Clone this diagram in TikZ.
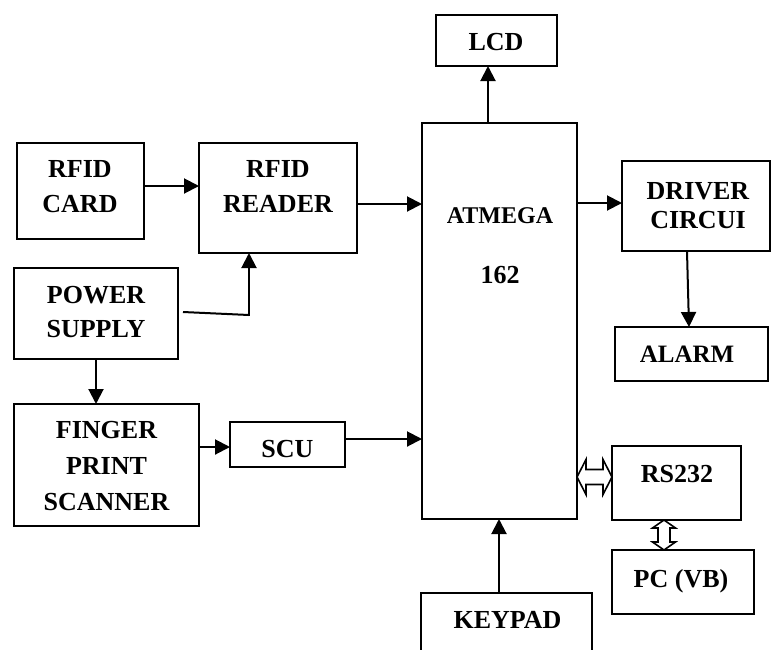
\documentclass[tikz,border=0pt]{standalone}
\usepackage{fontspec}
\setmainfont{Liberation Serif}
\usetikzlibrary{arrows.meta,calc}
\begin{document}
\begin{tikzpicture}[x=1pt,y=-1pt,
  blk/.style={draw,line width=1.8pt,inner sep=0pt,outer sep=0pt},
  txt/.style={inner sep=0pt,outer sep=0pt,font=\fontsize{26}{35}\selectfont\bfseries,align=center},
  arr/.style={line width=2pt,-{Triangle[length=15pt,width=15pt]}},
  dbl/.style={line width=1.6pt,line join=miter}]
\useasboundingbox (0,0) rectangle (780,649);
% boxes
\node[blk,minimum width=121pt,minimum height=51pt] (lcd) at (496.5,40.5) {};
\node[blk,minimum width=155pt,minimum height=396pt] (atm) at (499.5,321) {};
\node[blk,minimum width=127pt,minimum height=96pt] (card) at (80.5,191) {};
\node[blk,minimum width=158pt,minimum height=110pt] (reader) at (278,198) {};
\node[blk,minimum width=164pt,minimum height=91pt] (power) at (96,313.5) {};
\node[blk,minimum width=185pt,minimum height=122pt] (fps) at (106.5,465) {};
\node[blk,minimum width=115pt,minimum height=45pt] (scu) at (287.5,444.5) {};
\node[blk,minimum width=148pt,minimum height=90pt] (driver) at (696,206) {};
\node[blk,minimum width=153pt,minimum height=54pt] (alarm) at (691.5,354) {};
\node[blk,minimum width=129pt,minimum height=74pt] (rs) at (676.5,483) {};
\node[blk,minimum width=142pt,minimum height=64pt] (pc) at (683,582) {};
\node[blk,minimum width=171pt,minimum height=87pt] (kp) at (506.5,636.5) {};
% texts
\node[txt,anchor=base] (lcdt) at (496,50) {LCD};
\node[txt,anchor=base,font=\fontsize{24}{30}\selectfont\bfseries] (atmt) at (500,223) {ATMEGA};
\node[txt,anchor=base] (atmn) at (500,283) {162};
\node[txt] (cardt) at (80,187) {RFID\\CARD};
\node[txt] (readert) at (278,187) {RFID\\READER};
\node[txt,font=\fontsize{26}{34}\selectfont\bfseries] (powert) at (96,312) {POWER\\SUPPLY};
\node[txt,font=\fontsize{26}{36}\selectfont\bfseries] (fpst) at (106.5,466.5) {FINGER\\PRINT\\SCANNER};
\node[txt,anchor=base] (scut) at (287.5,457) {SCU};
\node[txt,font=\fontsize{26}{29}\selectfont\bfseries] (drivert) at (698,205.5) {DRIVER\\CIRCUI};
\node[txt,anchor=base,font=\fontsize{25}{30}\selectfont\bfseries] (alarmt) at (687,362) {ALARM};
\node[txt,anchor=base] (rst) at (677,482) {RS232};
\node[txt,anchor=base] (pct) at (681,587) {PC (VB)};
\node[txt,anchor=base] (kpt) at (507.5,628) {KEYPAD};
% connectors
\draw[arr] ([yshift=5pt]card.east) -- ([yshift=12pt]reader.west);
\draw[arr] ([yshift=-6pt]reader.east) -- ([yshift=-6pt]reader.east -| atm.west);
\coordinate (pcorner) at (249,315);
\draw[line width=2pt] ([xshift=5pt,yshift=1.5pt]power.east) -- (pcorner);
\draw[arr] ([yshift=-1pt]pcorner) -- (pcorner |- reader.south);
\draw[arr] (power.south) -- (power.south |- fps.north);
\draw[arr] ([yshift=-2.5pt]scu.west -| fps.east) -- ([yshift=-2.5pt]scu.west);
\draw[arr] ([yshift=5.5pt]scu.east) -- ([yshift=5.5pt]scu.east -| atm.west);
\draw[arr] ([xshift=-11.5pt]atm.north) -- ([xshift=-11.5pt]atm.north |- lcd.south);
\draw[arr] ([yshift=3pt]driver.west -| atm.east) -- ([yshift=3pt]driver.west);
\draw[arr] ([xshift=-9pt]driver.south) -- ([xshift=-7pt]driver.south |- alarm.north);
\draw[arr] ([xshift=-7.5pt]kp.north) -- ([xshift=-7.5pt]kp.north |- atm.south);
% hollow double arrows
\coordinate (ha) at ([yshift=6pt]rs.west -| atm.east);
\coordinate (hb) at ([yshift=6pt]rs.west);
\draw[dbl] (ha) -- ($(ha)+(9,-17.5)$) -- ($(ha)+(9,-7.5)$) -- ($(hb)+(-9,-7.5)$) -- ($(hb)+(-9,-17.5)$) -- (hb)
  -- ($(hb)+(-9,17.5)$) -- ($(hb)+(-9,7.5)$) -- ($(ha)+(9,7.5)$) -- ($(ha)+(9,17.5)$) -- cycle;
\coordinate (va) at ([xshift=-12.5pt]rs.south);
\coordinate (vb) at (va |- pc.north);
\draw[dbl] (va) -- ($(va)+(11.5,8)$) -- ($(va)+(6,8)$) -- ($(vb)+(6,-8)$) -- ($(vb)+(11.5,-8)$) -- (vb)
  -- ($(vb)+(-11.5,-8)$) -- ($(vb)+(-6,-8)$) -- ($(va)+(-6,8)$) -- ($(va)+(-11.5,8)$) -- cycle;
\end{tikzpicture}
\end{document}
